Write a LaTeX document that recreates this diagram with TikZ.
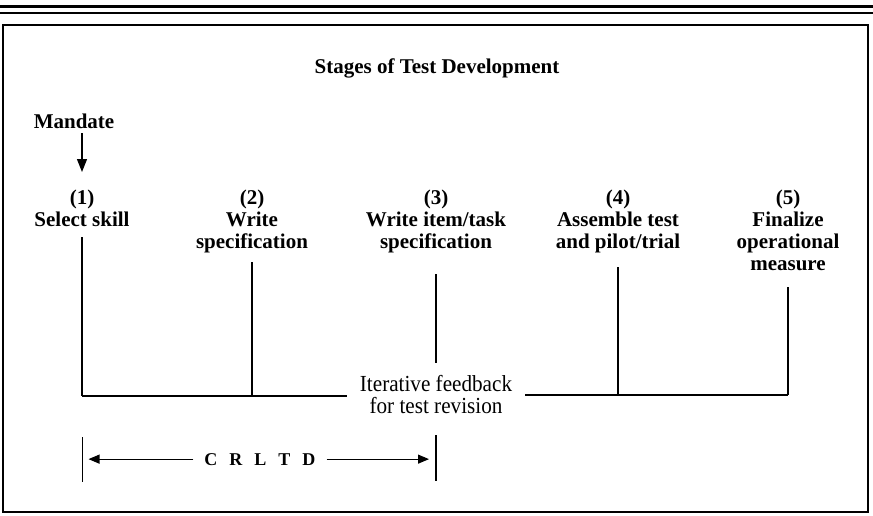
\documentclass[tikz,border=0pt]{standalone}
\usepackage{fontspec}
\setmainfont{Liberation Serif}
\newfontfamily\condfont[FakeStretch=0.92]{Liberation Serif}
\usetikzlibrary{arrows.meta,calc}
\begin{document}
\begin{tikzpicture}[x=1pt,y=-1pt,
  lbl/.style={inner sep=0pt, font=\fontsize{21}{22}\selectfont\bfseries, align=center},
  ln/.style={line width=1.1pt},
  arr/.style={line width=1.1pt,-{Triangle[length=11pt,width=9pt]}},
  marr/.style={line width=1.4pt,-{Triangle[length=13pt,width=10pt]}}]
\useasboundingbox (0,0) rectangle (873,515);
% top rules and frame
\draw[line width=2.2pt] (0,6.5) -- (873,6.5);
\draw[line width=1.4pt] (0,13) -- (873,13);
\draw[line width=2pt] (2.5,24.5) rectangle (868,512);
% texts
\node[lbl,anchor=base] (title) at (437,73) {Stages of Test Development};
\node[lbl,anchor=base] (mandate) at (74,128) {Mandate};
\node[lbl,anchor=north] (s1) at (82,190) {(1)\\Select skill};
\node[lbl,anchor=north] (s2) at (252,190) {(2)\\Write\\specification};
\node[lbl,anchor=north] (s3) at (436,190) {(3)\\Write item/task\\specification};
\node[lbl,anchor=north] (s4) at (618,190) {(4)\\Assemble test\\and pilot/trial};
\node[lbl,anchor=north] (s5) at (788,190) {(5)\\Finalize\\operational\\measure};
\node[inner xsep=13pt, inner ysep=0pt, anchor=north, align=center,
      font=\condfont\fontsize{23}{22.5}\selectfont] (fb) at (436,375) {Iterative feedback\\for test revision};
\node[inner xsep=11pt, inner ysep=0pt, anchor=base,
      font=\fontsize{18}{20}\selectfont\bfseries] (crltd) at (260,465)
      {C\hspace{12pt}R\hspace{12pt}L\hspace{12pt}T\hspace{12pt}D};
% mandate arrow
\draw[marr] ($(mandate.south -| s1.north)+(0,5)$) -- ($(s1.north)+(0,-18)$);
% feedback structure
\coordinate (h1) at (82,396);
\coordinate (h2) at (252,396);
\coordinate (h4) at (618,395);
\coordinate (h5) at (788,395);
\draw[ln] ($(s1.south)+(0,10)$) -- (h1);
\draw[ln] ($(s2.south)+(0,9)$) -- (h2);
\draw[ln] ($(s3.south)+(0,21)$) -- ($(fb.north)+(0,-12)$);
\draw[ln] ($(s4.south)+(0,14)$) -- (h4);
\draw[ln] ($(s5.south)+(0,16)$) -- (h5);
\draw[ln] (h1) -- (h2) -- (fb.west |- h2);
\draw[ln] (fb.east |- h4) -- (h4) -- (h5);
% CRLTD span
\coordinate (bL1) at (82.5,437);
\coordinate (bL2) at (82.5,482);
\coordinate (bR1) at (436,435);
\coordinate (bR2) at (436,481);
\draw[ln] (bL1) -- (bL2);
\draw[ln] (bR1) -- (bR2);
\draw[arr,shorten >=6pt] (crltd.west) -- (crltd.west -| bL1);
\draw[arr,shorten >=7pt] (crltd.east) -- (crltd.east -| bR1);
\end{tikzpicture}
\end{document}
